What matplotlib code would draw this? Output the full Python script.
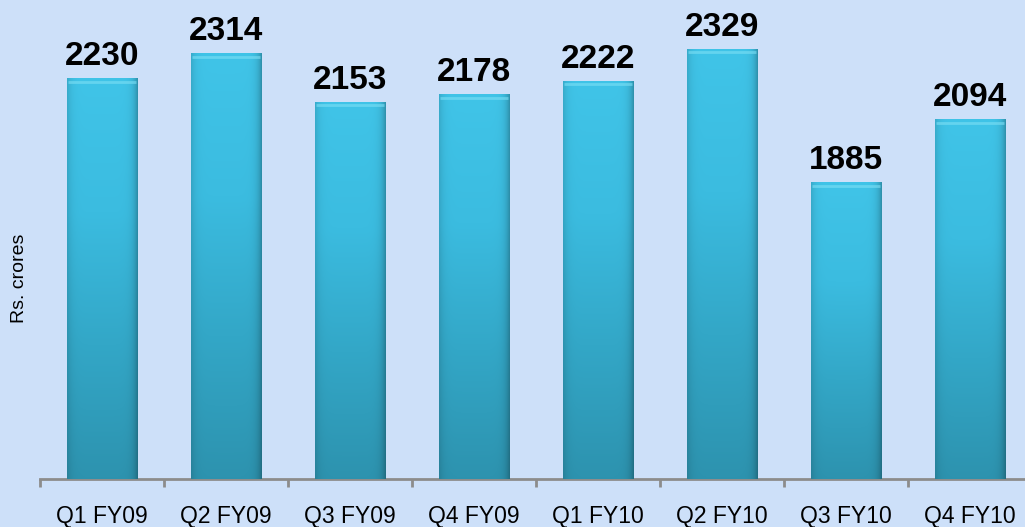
import numpy as np
import matplotlib.pyplot as plt
from matplotlib.colors import LinearSegmentedColormap

quarters = ["Q1 FY09", "Q2 FY09", "Q3 FY09", "Q4 FY09",
            "Q1 FY10", "Q2 FY10", "Q3 FY10", "Q4 FY10"]
values = [2230, 2314, 2153, 2178, 2222, 2329, 1885, 2094]

plt.rcParams['font.family'] = ['Liberation Sans', 'DejaVu Sans']

bg = "#cde0f9"
fig = plt.figure(figsize=(10.25, 5.27), dpi=100, facecolor=bg)
W, H = 1025, 527
# axes spans x 40..1032 px, y 479 (bottom) .. -3 (top)
ax = fig.add_axes([40 / W, (H - 479) / H, 992 / W, 482 / H])
ax.set_facecolor(bg)

x = np.arange(len(values))
bars = ax.bar(x, values, width=0.565, color="#35b5d8", zorder=2)
ax.set_xlim(-0.5, len(values) - 0.5)
ax.set_ylim(900, 2500)

# gradient fill: lighter cyan at top, teal at bottom, darker side edges
vert = LinearSegmentedColormap.from_list("v", ["#2d93af", "#33a7c7", "#3bbce0", "#40c4e8"])
ny, nx = 100, 60
gy = np.linspace(0, 1, ny)[:, None]
gx = np.linspace(-1, 1, nx)[None, :]
base = vert(np.repeat(gy, nx, axis=1))
shade = 1 - 0.25 * np.clip(gx, 0, None) ** 8 - 0.12 * np.clip(-gx, 0, None) ** 8
img = base.copy()
img[..., :3] = base[..., :3] * shade[..., None]
for b in bars:
    x0, w = b.get_x(), b.get_width()
    h = b.get_height()
    im = ax.imshow(img, extent=[x0, x0 + w, 900, h], origin="lower",
                   aspect="auto", zorder=3, interpolation="bilinear")
    im.set_clip_path(b)
    b.set_alpha(0)
    ax.plot([x0 + 0.01, x0 + w - 0.01], [h - 12, h - 12], color="#7ee0f5",
            lw=2, alpha=0.6, zorder=4, solid_capstyle="butt")

for xi, v in zip(x, values):
    ax.text(xi, v + 43, str(v), ha="center", va="baseline", fontsize=24,
            fontweight="bold", color="black", zorder=5)

ax.set_xticks(x)
ax.set_xticklabels(quarters, fontsize=16.5)
ax.tick_params(axis="x", length=0, pad=19)
ax.set_xticks(np.arange(-0.5, len(values)), minor=True)
ax.tick_params(axis="x", which="minor", length=6, width=2, color="#8c8c8c")
ax.set_yticks([])
for s in ["top", "right", "left"]:
    ax.spines[s].set_visible(False)
ax.spines["bottom"].set_color("#8c8c8c")
ax.spines["bottom"].set_linewidth(2)

fig.text(20 / W, 1 - 278 / H, "Rs. crores", rotation=90, ha="center",
         va="center", fontsize=14)

fig.savefig("out.png", dpi=100, facecolor=bg)
